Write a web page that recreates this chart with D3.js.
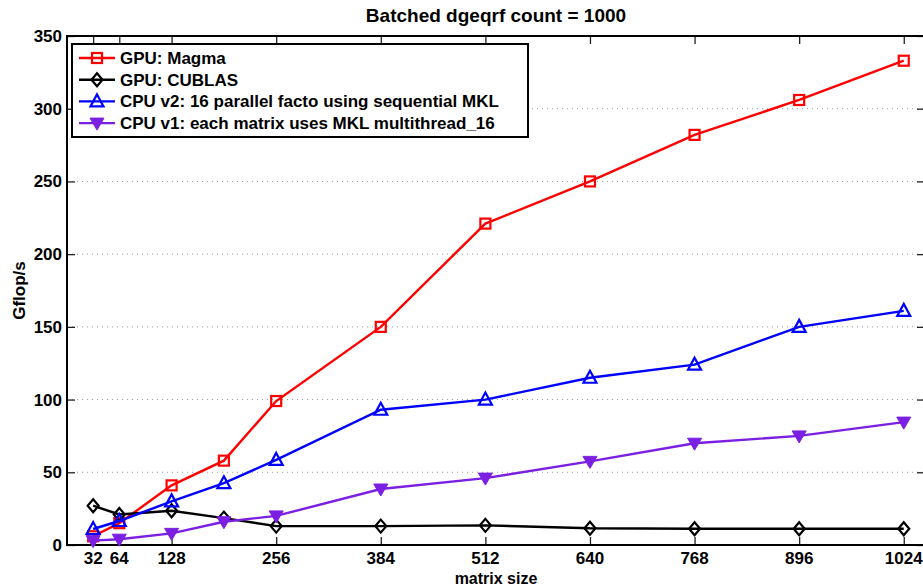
<!DOCTYPE html>
<html>
<head>
<meta charset="utf-8">
<script src="https://cdn.jsdelivr.net/npm/d3@7"></script>
<style>
  body { margin: 0; background: #fff; }
  svg { display: block; font-family: "Liberation Sans", Arial, sans-serif; font-weight: bold; }
</style>
</head>
<body>
<div id="chart"></div>
<script>
// matrix sizes and Gflop/s per series
var sizes = [32, 64, 128, 192, 256, 384, 512, 640, 768, 896, 1024];
var xTicks = [32, 64, 128, 256, 384, 512, 640, 768, 896, 1024];
var yTicks = [0, 50, 100, 150, 200, 250, 300, 350];

var magma  = [6, 15, 41, 58, 99, 150, 221, 250, 282, 306, 333];
var cublas = [27, 21, 23.5, 18.5, 13, 13, 13.5, 11.5, 11.2, 11.2, 11.2];
var cpuV2  = [11, 16.5, 30, 42.5, 58.5, 93, 100, 115, 124, 150, 161];
var cpuV1  = [3, 4, 8, 16, 20, 38.5, 46, 57.5, 70, 75, 84.5];

var seriesNames = [
    'GPU: Magma',
    'GPU: CUBLAS',
    'CPU v2: 16 parallel facto using sequential MKL',
    'CPU v1: each matrix uses MKL multithread_16'
];
var seriesColors = ['#ff0000', '#000000', '#0000ff', '#7b1fe2'];
var seriesMarkers = ['square', 'diamond', 'triUp', 'triDown'];

var width = 923, height = 588;
var plotLeft = 67, plotRight = 925, plotTop = 36, plotBottom = 545;

var svg = d3.select('#chart').append('svg')
    .attr('width', width)
    .attr('height', height);

var x = d3.scaleLinear().domain([0, 1050]).range([plotLeft, plotRight]);
var y = d3.scaleLinear().domain([0, 350]).range([plotBottom, plotTop]);

// dotted horizontal grid
svg.append('g')
    .selectAll('line')
    .data(yTicks.slice(1, -1))
    .enter().append('line')
    .attr('x1', plotLeft).attr('x2', plotRight)
    .attr('y1', function(d) { return y(d); })
    .attr('y2', function(d) { return y(d); })
    .attr('stroke', '#999')
    .attr('stroke-width', 1)
    .attr('stroke-dasharray', '1,4');

// axes, ticks pointing inward
var tickLen = 8;
function noDomain(g) { g.select('.domain').remove(); }
svg.append('g')
    .attr('transform', 'translate(0,' + plotBottom + ')')
    .call(d3.axisTop(x).tickValues(xTicks).tickSize(tickLen).tickFormat(''))
    .call(noDomain);
svg.append('g')
    .attr('transform', 'translate(0,' + plotTop + ')')
    .call(d3.axisBottom(x).tickValues(xTicks).tickSize(tickLen).tickFormat(''))
    .call(noDomain);
svg.append('g')
    .attr('transform', 'translate(' + plotLeft + ',0)')
    .call(d3.axisRight(y).tickValues(yTicks).tickSize(tickLen).tickFormat(''))
    .call(noDomain);
svg.append('g')
    .attr('transform', 'translate(' + plotRight + ',0)')
    .call(d3.axisLeft(y).tickValues(yTicks).tickSize(tickLen).tickFormat(''))
    .call(noDomain);
svg.selectAll('.tick line').attr('stroke', '#222').attr('stroke-width', 1.3);

svg.append('rect')
    .attr('x', plotLeft).attr('y', plotTop)
    .attr('width', plotRight - plotLeft).attr('height', plotBottom - plotTop)
    .attr('fill', 'none')
    .attr('stroke', '#000')
    .attr('stroke-width', 2);

// tick labels
svg.append('g').selectAll('text')
    .data(xTicks)
    .enter().append('text')
    .attr('x', function(d) { return x(d); })
    .attr('y', 564)
    .attr('text-anchor', 'middle')
    .attr('font-size', 17)
    .text(function(d) { return d; });
svg.append('g').selectAll('text')
    .data(yTicks)
    .enter().append('text')
    .attr('x', 62)
    .attr('y', function(d) { return y(d) + 6; })
    .attr('text-anchor', 'end')
    .attr('font-size', 17)
    .text(function(d) { return d; });

svg.append('text')
    .attr('x', (plotLeft + plotRight) / 2).attr('y', 22)
    .attr('text-anchor', 'middle')
    .attr('font-size', 19)
    .text('Batched dgeqrf count = 1000');
svg.append('text')
    .attr('x', (plotLeft + plotRight) / 2).attr('y', 584)
    .attr('text-anchor', 'middle')
    .attr('font-size', 16)
    .text('matrix size');
svg.append('text')
    .attr('transform', 'translate(25,' + ((plotTop + plotBottom) / 2) + ') rotate(-90)')
    .attr('text-anchor', 'middle')
    .attr('font-size', 17)
    .text('Gflop/s');

function drawMarker(g, kind, color) {
    if (kind === 'square') {
        g.append('rect').attr('x', -5).attr('y', -5).attr('width', 10).attr('height', 10)
            .attr('fill', 'none').attr('stroke', color).attr('stroke-width', 2.2);
    } else if (kind === 'diamond') {
        g.append('path').attr('d', 'M0,-6.5L5.5,0L0,6.5L-5.5,0Z')
            .attr('fill', 'none').attr('stroke', color).attr('stroke-width', 2.2);
    } else if (kind === 'triUp') {
        g.append('path').attr('d', 'M0,-7L6.5,5L-6.5,5Z')
            .attr('fill', 'none').attr('stroke', color).attr('stroke-width', 2.2);
    } else {
        g.append('path').attr('d', 'M-7,-5L7,-5L0,7Z')
            .attr('fill', color).attr('stroke', color).attr('stroke-width', 1);
    }
}

var allSeries = [magma, cublas, cpuV2, cpuV1];
var line = d3.line()
    .x(function(d, i) { return x(sizes[i]); })
    .y(function(d) { return y(d); });

allSeries.forEach(function(vals, s) {
    var g = svg.append('g');
    g.append('path')
        .datum(vals)
        .attr('d', line)
        .attr('fill', 'none')
        .attr('stroke', seriesColors[s])
        .attr('stroke-width', 2.4);
    g.selectAll('.marker')
        .data(vals)
        .enter().append('g')
        .attr('class', 'marker')
        .attr('transform', function(d, i) {
            return 'translate(' + x(sizes[i]) + ',' + y(d) + ')';
        })
        .each(function() { drawMarker(d3.select(this), seriesMarkers[s], seriesColors[s]); });
});

// legend
var legend = svg.append('g');
legend.append('rect')
    .attr('x', 72).attr('y', 44)
    .attr('width', 456).attr('height', 93)
    .attr('fill', '#fff')
    .attr('stroke', '#000')
    .attr('stroke-width', 2);
seriesNames.forEach(function(name, s) {
    var yy = 58 + s * 21.7;
    var row = legend.append('g').attr('transform', 'translate(0,' + yy + ')');
    row.append('line')
        .attr('x1', 79).attr('x2', 115)
        .attr('stroke', seriesColors[s])
        .attr('stroke-width', 2.4);
    drawMarker(row.append('g').attr('transform', 'translate(97,0)'), seriesMarkers[s], seriesColors[s]);
    row.append('text')
        .attr('x', 120).attr('y', 6)
        .attr('font-size', 17)
        .text(name);
});
</script>
</body>
</html>
